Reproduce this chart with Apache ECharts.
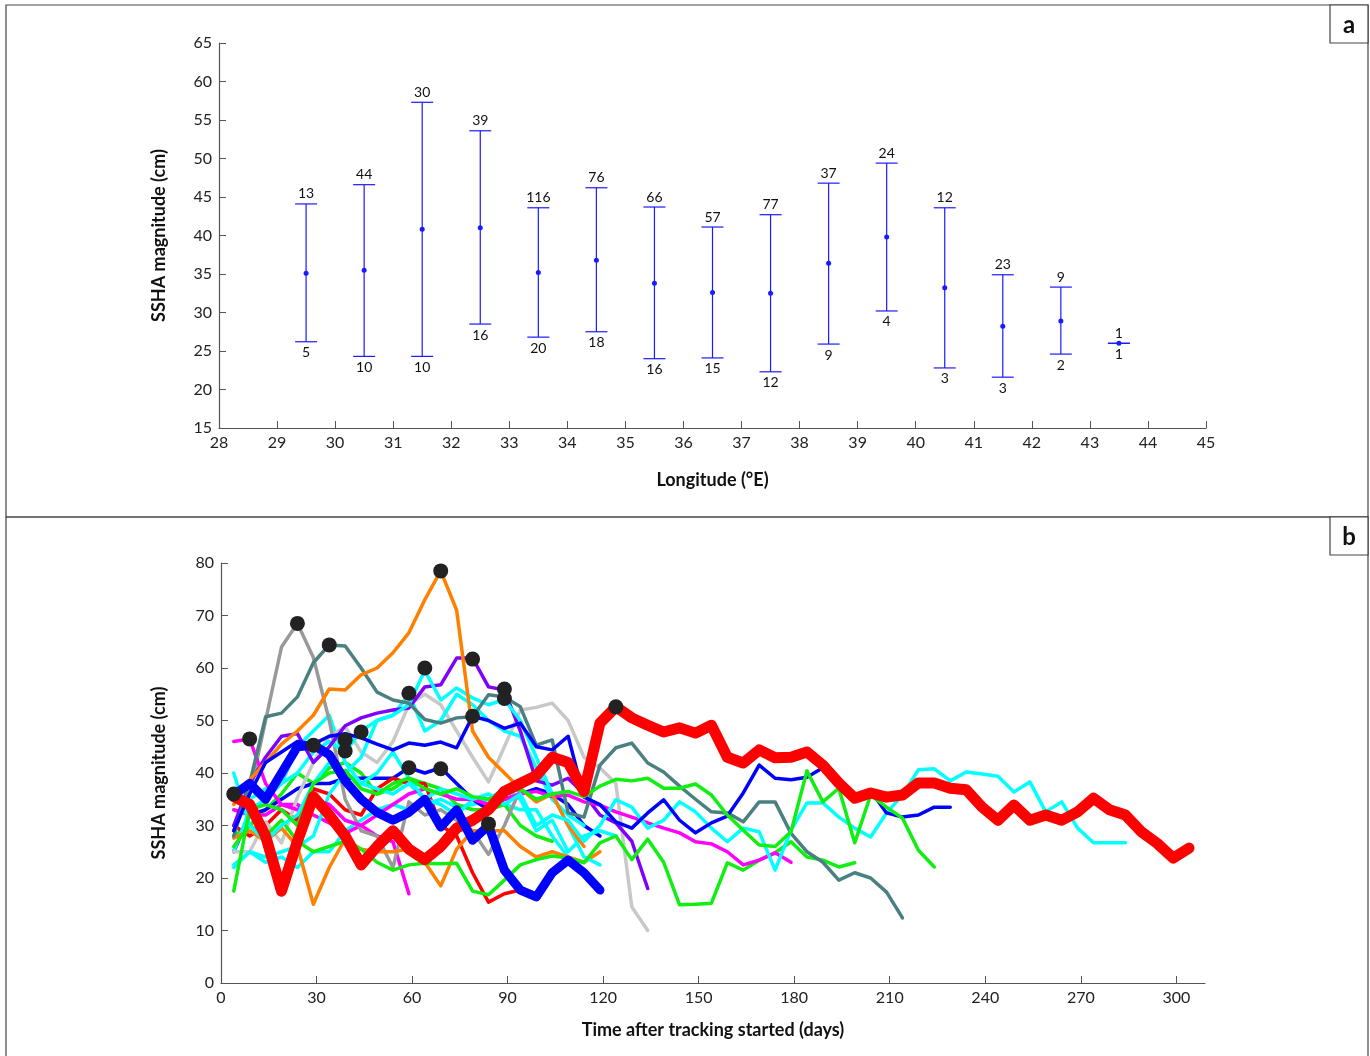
<!DOCTYPE html>
<html>
<head>
<meta charset="utf-8">
<script src="https://cdn.jsdelivr.net/npm/echarts@6/dist/echarts.min.js"></script>
<style>
  html, body { margin: 0; padding: 0; background: #fff; }
  #chart { width: 1370px; height: 1056px; }
</style>
</head>
<body>
<div id="chart"></div>
<script>
// panel a: SSHA magnitude per 1-degree longitude bin
var lon = [29.5, 30.5, 31.5, 32.5, 33.5, 34.5, 35.5, 36.5, 37.5, 38.5, 39.5, 40.5, 41.5, 42.5, 43.5];
var meanVal = [35.1, 35.5, 40.8, 41.0, 35.2, 36.8, 33.8, 32.6, 32.5, 36.4, 39.8, 33.2, 28.2, 28.9, 26.0];
var upperVal = [44.1, 46.6, 57.3, 53.6, 43.6, 46.2, 43.7, 41.1, 42.7, 46.8, 49.4, 43.6, 34.9, 33.3, 26.0];
var lowerVal = [26.2, 24.3, 24.3, 28.5, 26.8, 27.5, 24.0, 24.1, 22.3, 25.9, 30.2, 22.8, 21.6, 24.6, 26.0];
var countTop = [13, 44, 30, 39, 116, 76, 66, 57, 77, 37, 24, 12, 23, 9, 1];
var countBottom = [5, 10, 10, 16, 20, 18, 16, 15, 12, 9, 4, 3, 3, 2, 1];

// panel b: eddy tracks, one value every 5 days starting at day 4
var firstDay = 4;
var dayStep = 5;
var redThick = [35.5, 34, 28, 17.5, 27, 35.5, 32, 28, 22.5, 26, 29, 25.5, 23.5, 26, 29.5, 31, 33, 36.5, 38, 39.5,
  43, 42, 36.5, 49.5, 52.6, 50.5, 49.1, 47.8, 48.6, 47.6, 49.1, 43, 41.9, 44.4, 42.9, 43, 44, 41.5, 38.1, 35.2,
  36.2, 35.4, 35.8, 38.1, 38.1, 37.1, 36.8, 33.5, 31, 33.9, 31, 32, 31, 32.6, 35.2, 33, 32, 28.8, 26.6, 23.8, 25.7];
var blueThick = [35.8, 38, 35, 40, 45, 45.3, 43.5, 38.5, 35, 32.5, 31, 32.5, 35, 29.7, 33, 27.2, 30, 21.5, 17.7, 16.4,
  21, 23.4, 21, 17.7];
var orangePeak = [34, 38.7, 42, 45.5, 48, 51, 56, 55.8, 58.7, 60, 62.9, 66.7, 73, 78.5, 71, 48, 43, 40, 37, 34.5,
  36, 30, 26];
var orangeLow = [27.6, 29, 27, 29.5, 26, 15, 22, 27.5, 25.5, 25, 25, 25.5, 23, 18.5, 25.5, 29, 29, 29, 26, 24,
  25, 24, 23, 25];
var grayPeak = [29, 36, 50, 64, 68.5, 62, 50, 35, 29, 28, 22, 34.5, 32, 33, 31, 29, 24.5, 30, 37];
var tealLong = [28, 38, 50.7, 51.4, 54.5, 61, 64.4, 64.2, 60, 55.4, 53.9, 53.3, 50.2, 49.5, 50.5, 50.7, 54.9, 54.5, 52.6, 45.3,
  46.3, 32.4, 31.6, 41.5, 44.8, 45.7, 41.9, 40.2, 37.5, 35, 32.6, 32.4, 30.7, 34.5, 34.5, 28.5, 25, 23, 19.6, 21,
  20, 17.3, 12.4];
var cyanLong = [40, 30, 27, 30, 32, 38, 42, 40, 38, 40, 44, 39, 35, 37, 36, 35, 36, 34, 36, 30,
  32, 31, 27, 30, 34.9, 33.5, 29.5, 31, 34.5, 32.6, 29.5, 26.9, 29.5, 28.8, 21.5, 29.1, 34.3, 34.3, 31.6, 29.5,
  27.8, 32.4, 35.8, 40.6, 40.8, 38.5, 40.2, 39.8, 39.4, 36.4, 38.3, 32.6, 34.5, 29.5, 26.7, 26.7, 26.7];
var blueLong = [29, 36, 42, 44, 46, 45.5, 47, 47.5, 46.7, 45.5, 44.4, 45.7, 45.3, 45.9, 44.8, 50.8, 50, 48.5, 49.5, 45,
  44.4, 47, 35.4, 34, 30.7, 29.5, 32.4, 34.9, 31, 28.6, 30.5, 31.8, 36.2, 41.5, 39, 38.7, 39.2, 41, 38, 35.2,
  36.6, 32.4, 31.6, 32, 33.5, 33.5];
var greenLong = [17.5, 33, 34, 33, 30, 38, 40, 40.5, 37, 36, 38, 39, 37, 36, 37, 35.5, 35, 36, 37, 35,
  36, 36.5, 35.5, 37.5, 38.8, 38.5, 39, 37.1, 37.1, 37.9, 35.8, 32, 29.1, 26.3, 26, 28.8, 40.4, 34.5, 37.1, 26.7,
  35.8, 33.5, 31.4, 25.3, 22.1];
var greenLow = [26, 30, 28, 31, 27, 25, 26, 27, 25.5, 23, 21.5, 22.5, 22.8, 22.7, 22.8, 17.5, 16.8, 19.6, 22.5, 23.5,
  24.2, 23.8, 22.9, 26.7, 28, 23.5, 27.4, 23, 14.9, 15, 15.2, 22.9, 21.5, 23.4, 24.8, 26.9, 24, 23.4, 22.1, 22.9];
var magentaLong = [46, 46.5, 38, 34, 33, 35, 34, 31, 30, 32, 34, 36, 37, 36, 35, 35, 34, 35, 36, 36.5,
  35.5, 35.8, 34.5, 33.9, 32.6, 31.6, 30.5, 29.5, 28.6, 26.9, 26.5, 25, 22.5, 23.4, 24.8, 23];
var purple = [30, 38, 43, 47, 47.5, 42, 45, 49, 50.5, 51.4, 52, 52.4, 56.4, 56.8, 61.9, 61.9, 56.4, 55.8, 48, 38.5,
  37.7, 39, 36, 32, 30.5, 27, 18];
var lightGray = [25, 25, 30.7, 26.7, 35.4, 42, 47, 48.8, 44, 42, 46, 53, 55, 53, 48, 43, 38.3, 45, 52, 52.5,
  53.3, 50, 43, 41, 38, 14.5, 10];
var cyanB = [22, 25, 24, 25, 26, 28, 36, 40, 43, 50, 51, 53, 59.5, 53.9, 56.2, 54.3, 53, 54, 50, 43,
  36, 30, 24, 22.5];
var cyanC = [25, 33, 35, 38, 45, 48, 51, 42, 38, 37, 36, 38, 35, 34, 32, 35, 35, 37, 35, 29,
  31, 25, 28, 29, 28];
var cyanD = [22.5, 25, 23, 24, 22, 25, 25, 29, 31, 33, 34, 33, 34, 35, 33.5, 34, 35, 34, 33, 33,
  28, 24];
var cyanE = [30, 35, 37, 38, 40, 44, 46, 44, 48, 50, 51, 55, 48, 50, 55, 53, 50, 48, 47, 41,
  35, 32, 30];
var blueB = [25, 32, 33, 35, 37, 38, 38, 39, 39, 39, 39, 41, 40, 41, 38, 35, 33, 35, 36, 37,
  36, 34, 30, 28];
var greenB = [28, 30, 33, 36, 40, 38, 41, 42, 40, 36, 37, 39, 38, 37, 34, 33, 33, 34, 30, 28, 27];
var redThin = [30, 28, 30, 33, 31, 37, 36, 33, 32, 37, 39, 38, 38, 30, 28, 21, 15.4, 17, 17.7];
var magentaShort = [33, 32, 32, 34, 34, 32, 30.5, 28.5, 30, 28, 26.9, 17];

// peak markers
var peakDays = [4, 9, 24, 29, 34, 39, 39, 44, 59, 64, 69, 79, 79, 89, 89, 59, 69, 124, 84];
var peakVals = [36, 46.5, 68.5, 45.3, 64.4, 46.3, 44.2, 47.8, 55.2, 60, 78.5, 61.7, 50.8, 56, 54.2, 41, 40.8, 52.6, 30.3];

var dayTicks = [0, 30, 60, 90, 120, 150, 180, 210, 240, 270, 300];

var tracks = [
  { v: cyanD, c: '#00ffff', w: 3.5 },
  { v: greenB, c: '#11ee11', w: 3.5 },
  { v: blueB, c: '#0000ff', w: 3.5 },
  { v: magentaShort, c: '#ff00ff', w: 3.5 },
  { v: redThin, c: '#ff0000', w: 3.5 },
  { v: cyanC, c: '#00ffff', w: 3.5 },
  { v: lightGray, c: '#c8c8c8', w: 3.5 },
  { v: grayPeak, c: '#999999', w: 3.5 },
  { v: orangeLow, c: '#ff8000', w: 3.5 },
  { v: cyanE, c: '#00ffff', w: 3.5 },
  { v: purple, c: '#8000ff', w: 3.5 },
  { v: cyanB, c: '#00ffff', w: 3.5 },
  { v: greenLow, c: '#11ee11', w: 3.5 },
  { v: magentaLong, c: '#ff00ff', w: 3.5 },
  { v: tealLong, c: '#4a8080', w: 3.5 },
  { v: orangePeak, c: '#ff8000', w: 3.5 },
  { v: cyanLong, c: '#00ffff', w: 3.5 },
  { v: blueLong, c: '#0000ff', w: 3.5 },
  { v: greenLong, c: '#11ee11', w: 3.5 },
  { v: redThick, c: '#ff0000', w: 11 },
  { v: blueThick, c: '#0000ff', w: 9 }
];

var font = 'Lato, "Open Sans", sans-serif';
var axisColor = '#555';

function axisBase(min, max, interval) {
  return {
    min: min, max: max, interval: interval,
    axisLine: { show: true, lineStyle: { color: axisColor, width: 1.2 } },
    axisTick: { show: true, inside: true, length: 7, lineStyle: { color: axisColor } },
    axisLabel: { color: '#222', fontSize: 16, fontFamily: font, margin: 7 },
    splitLine: { show: false },
    nameTextStyle: { color: '#111', fontSize: 18, fontWeight: 'bold', fontFamily: font },
    nameLocation: 'middle'
  };
}

var xa0 = axisBase(28, 45, 1);
xa0.type = 'value'; xa0.gridIndex = 0; xa0.name = 'Longitude (\u00b0E)'; xa0.nameGap = 43;
var ya0 = axisBase(15, 65, 5);
ya0.type = 'value'; ya0.gridIndex = 0; ya0.name = 'SSHA magnitude (cm)'; ya0.nameGap = 51;

var xa1 = axisBase(0, 309, 30);
xa1.type = 'value'; xa1.gridIndex = 1; xa1.name = 'Time after tracking started (days)'; xa1.nameGap = 38;
xa1.axisLabel.customValues = dayTicks;
xa1.axisTick.customValues = dayTicks;
var ya1 = axisBase(0, 80, 10);
ya1.type = 'value'; ya1.gridIndex = 1; ya1.name = 'SSHA magnitude (cm)'; ya1.nameGap = 53;

var series = [];

series.push({
  type: 'custom',
  xAxisIndex: 0, yAxisIndex: 0,
  data: lon.map(function (x, i) { return [x, lowerVal[i], upperVal[i], countTop[i], countBottom[i]]; }),
  renderItem: function (params, api) {
    var top = api.coord([api.value(0), api.value(2)]);
    var bot = api.coord([api.value(0), api.value(1)]);
    var hw = 11;
    var ls = { stroke: '#1a1aff', lineWidth: 1.2 };
    return {
      type: 'group',
      children: [
        { type: 'line', shape: { x1: top[0], y1: top[1], x2: bot[0], y2: bot[1] }, style: ls },
        { type: 'line', shape: { x1: top[0] - hw, y1: top[1], x2: top[0] + hw, y2: top[1] }, style: ls },
        { type: 'line', shape: { x1: bot[0] - hw, y1: bot[1], x2: bot[0] + hw, y2: bot[1] }, style: ls },
        { type: 'text', x: top[0], y: top[1] - 3, style: { text: String(api.value(3)), fill: '#111', fontSize: 14, fontFamily: font, align: 'center', verticalAlign: 'bottom' } },
        { type: 'text', x: bot[0], y: bot[1] + 4, style: { text: String(api.value(4)), fill: '#111', fontSize: 14, fontFamily: font, align: 'center', verticalAlign: 'top' } }
      ]
    };
  },
  z: 2
});

series.push({
  type: 'scatter',
  xAxisIndex: 0, yAxisIndex: 0,
  symbolSize: 5,
  itemStyle: { color: '#1a1aff', opacity: 1 },
  data: lon.map(function (x, i) { return [x, meanVal[i]]; }),
  z: 3
});

tracks.forEach(function (t, k) {
  series.push({
    type: 'line',
    xAxisIndex: 1, yAxisIndex: 1,
    showSymbol: false,
    lineStyle: { color: t.c, width: t.w, join: 'round', cap: 'round' },
    itemStyle: { color: t.c },
    data: t.v.map(function (v, i) { return [firstDay + dayStep * i, v]; }),
    z: 2 + k * 0.01
  });
});

series.push({
  type: 'scatter',
  xAxisIndex: 1, yAxisIndex: 1,
  symbolSize: 15,
  itemStyle: { color: '#222', opacity: 1 },
  data: peakDays.map(function (d, i) { return [d, peakVals[i]]; }),
  z: 5
});

function frameBox(x, y, w, h) {
  return { type: 'rect', shape: { x: x, y: y, width: w, height: h }, style: { fill: 'none', stroke: '#444', lineWidth: 1.2 }, silent: true };
}
function tagBox(letter, x, y) {
  return {
    type: 'group',
    children: [
      { type: 'rect', shape: { x: x, y: y, width: 38, height: 38 }, style: { fill: '#fff', stroke: '#444', lineWidth: 1.2 } },
      { type: 'text', x: x + 19, y: y + 20, style: { text: letter, fill: '#111', fontSize: 24, fontWeight: 'bold', fontFamily: font, align: 'center', verticalAlign: 'middle' } }
    ]
  };
}

var chart = echarts.init(document.getElementById('chart'));
chart.setOption({
  animation: false,
  backgroundColor: '#fff',
  grid: [
    { left: 219, right: 164, top: 43, bottom: 628 },
    { left: 221, right: 165, top: 563, bottom: 73 }
  ],
  xAxis: [xa0, xa1],
  yAxis: [ya0, ya1],
  graphic: [
    frameBox(6, 5, 1362, 512),
    frameBox(6, 517, 1362, 540),
    tagBox('a', 1330, 5),
    tagBox('b', 1330, 517)
  ],
  series: series
});
window.addEventListener('resize', function () {
  chart.resize();
});
</script>
</body>
</html>
